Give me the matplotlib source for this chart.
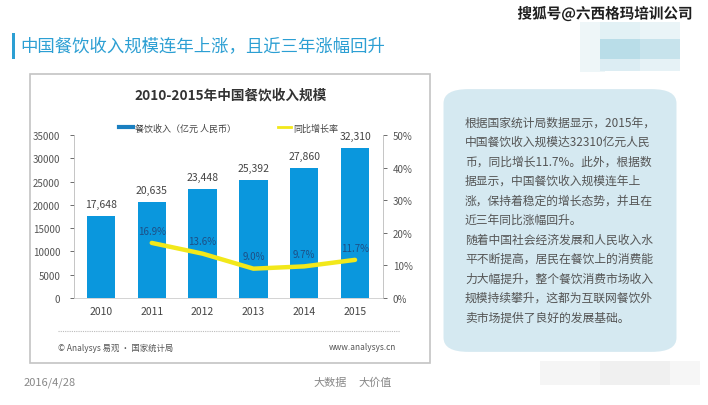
import matplotlib
matplotlib.use("Agg")
import matplotlib.pyplot as plt
from matplotlib.patches import Rectangle, FancyBboxPatch
from matplotlib.lines import Line2D
import matplotlib.patheffects as pe

plt.rcParams['font.family'] = ['Noto Sans CJK SC', 'DejaVu Sans']

years = ['2010', '2011', '2012', '2013', '2014', '2015']
revenue = [17648, 20635, 23448, 25392, 27860, 32310]
growth_years = ['2011', '2012', '2013', '2014', '2015']
growth = [16.9, 13.6, 9.0, 9.7, 11.7]
left_ticks = [0, 5000, 10000, 15000, 20000, 25000, 30000, 35000]
right_ticks = [0, 10, 20, 30, 40, 50]

W, H = 708, 406
fig = plt.figure(figsize=(W / 100, H / 100), dpi=100)
fig.patch.set_facecolor('white')

def fx(x):
    return x / W

def fy(y):
    return 1 - y / H

# chart frame
fig.patches.append(Rectangle((fx(30), fy(364)), fx(400), (364 - 75) / H,
                             transform=fig.transFigure, fill=False,
                             edgecolor='#c4c4c4', lw=1.2))

# page title
fig.patches.append(Rectangle((fx(12), fy(60)), fx(3), 26 / H,
                             transform=fig.transFigure, color='#2c9fd3', lw=0))
fig.text(fx(20), fy(47), '中国餐饮收入规模连年上涨，且近三年涨幅回升',
         fontsize=12.5, color='#2c9fd3', va='center', ha='left')

# blurred blocks
for (x0, y0, w, h, c) in [(580, 23, 25, 50, '#eef6f8'),
                          (600, 23, 40, 17, '#e2f1f5'), (640, 23, 40, 17, '#eaf4f7'),
                          (600, 40, 40, 20, '#b9dde8'), (640, 40, 40, 20, '#c7e3ec'),
                          (600, 60, 40, 12, '#dcedf3'), (640, 60, 40, 12, '#e6f2f6'),
                          (540, 362, 60, 24, '#f5f5f5'), (600, 362, 70, 24, '#f0f0f0'),
                          (670, 362, 30, 24, '#f6f6f6')]:
    fig.patches.append(Rectangle((fx(x0), fy(y0 + h)), fx(w), h / H,
                                 transform=fig.transFigure, color=c, lw=0))

# watermark top right
fig.text(fx(693), fy(15), '搜狐号@六西格玛培训公司', fontsize=10.5, color='#1e1e1e',
         ha='right', va='center', fontweight='bold',
         path_effects=[pe.withStroke(linewidth=2.5, foreground='white')])

# chart title
fig.text(fx(231), fy(96), '2010-2015年中国餐饮收入规模', fontsize=9.8,
         fontweight='bold', color='#333333', ha='center', va='center')

# main axes
ax = fig.add_axes([fx(74), fy(299), (383 - 74) / W, (299 - 136) / H])
x = list(range(len(years)))
ax.bar(x, revenue, width=0.56, color='#0a97dd', zorder=2)
ax.set_ylim(0, 35000)
ax.set_xlim(-0.53, 5.55)
ax.set_yticks(left_ticks)
ax.set_yticklabels([str(t) for t in left_ticks])
ax.set_xticks(x)
ax.set_xticklabels(years)
ax.tick_params(axis='y', labelsize=7, colors='#555555', length=3, width=0.6, pad=7)
ax.tick_params(axis='x', labelsize=7.5, colors='#444444', length=0, pad=6)
for s in ['top', 'right']:
    ax.spines[s].set_visible(False)
ax.spines['left'].set_color('#bbbbbb')
ax.spines['left'].set_linewidth(0.6)
ax.spines['bottom'].set_color('#cccccc')
ax.spines['bottom'].set_linewidth(0.6)
for xi, v in zip(x, revenue):
    ax.text(xi, v + 1500, f'{v:,}', ha='center', va='bottom', fontsize=7.5, color='#444444')

ax2 = ax.twinx()
ax2.set_ylim(0, 50)
gx = [years.index(y) for y in growth_years]
ax2.plot(gx, growth, color='#f2e81a', lw=3.2, solid_capstyle='round', zorder=3)
ax2.set_yticks(right_ticks)
ax2.set_yticklabels([f'{t}%' for t in right_ticks])
ax2.tick_params(axis='y', labelsize=7, colors='#555555', length=3, width=0.6, pad=4)
for s in ['top', 'left', 'bottom']:
    ax2.spines[s].set_visible(False)
ax2.spines['right'].set_color('#bbbbbb')
ax2.spines['right'].set_linewidth(0.6)
for xi, v in zip(gx, growth):
    ax2.text(xi, v + 2.2, f'{v:.1f}%', ha='center', va='bottom', fontsize=7, color='#1d4f86')

# legend
handles = [Line2D([0], [0], color='#1a7fc0', lw=3),
           Line2D([0], [0], color='#f2e81a', lw=2)]
fig.legend(handles, ['餐饮收入（亿元 人民币）', '同比增长率'], loc='center',
           bbox_to_anchor=(fx(229), fy(129)), ncol=2, frameon=False,
           fontsize=6.5, handlelength=1.5, columnspacing=4.6, handletextpad=0.25,
           labelcolor='#444444')

# footer inside chart
fig.lines.append(Line2D([fx(58), fx(400)], [fy(332), fy(332)], transform=fig.transFigure,
                        color='#bbbbbb', lw=0.8, ls=(0, (1, 1))))
fig.text(fx(58), fy(348), '© Analysys 易观 · 国家统计局', fontsize=6, color='#555555',
         ha='left', va='center')
fig.text(fx(396), fy(348), 'www.analysys.cn', fontsize=6, color='#555555',
         ha='right', va='center')

# text box
fig.patches.append(FancyBboxPatch((fx(452), fy(348)), fx(216), (348 - 95) / H,
                                  boxstyle='round,pad=0.012,rounding_size=0.035',
                                  transform=fig.transFigure, facecolor='#d5e9f1',
                                  edgecolor='none'))
lines = ['根据国家统计局数据显示，2015年，',
         '中国餐饮收入规模达32310亿元人民',
         '币，同比增长11.7%。此外，根据数',
         '据显示，中国餐饮收入规模连年上',
         '涨，保持着稳定的增长态势，并且在',
         '近三年同比涨幅回升。',
         '随着中国社会经济发展和人民收入水',
         '平不断提高，居民在餐饮上的消费能',
         '力大幅提升，整个餐饮消费市场收入',
         '规模持续攀升，这都为互联网餐饮外',
         '卖市场提供了良好的发展基础。']
for i, t in enumerate(lines):
    fig.text(fx(465), fy(123 + i * 19.5), t, fontsize=8.5, color='#555555',
             ha='left', va='center')

# page footer
fig.text(fx(24), fy(383), '2016/4/28', fontsize=8, color='#888888', ha='left', va='center')
fig.text(fx(313), fy(383), '大数据', fontsize=8, color='#888888', ha='left', va='center')
fig.text(fx(358), fy(383), '大价值', fontsize=8, color='#888888', ha='left', va='center')

fig.savefig('out.png', dpi=100, facecolor='white')
